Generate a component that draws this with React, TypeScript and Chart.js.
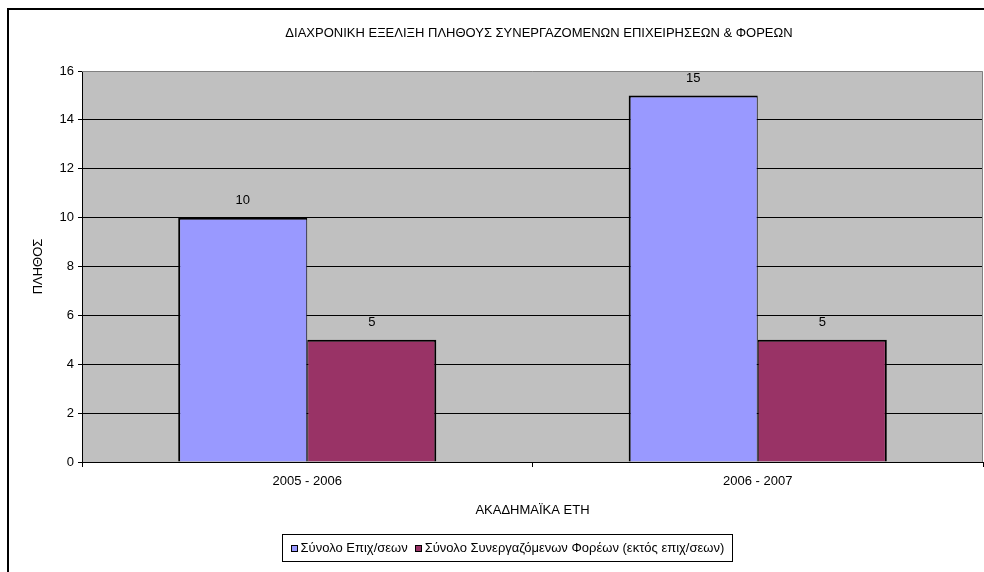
import React, { useEffect, useRef } from "react";
import { Chart, registerables } from "chart.js";

Chart.register(...registerables);

const chartTitle = "ΔΙΑΧΡΟΝΙΚΗ ΕΞΕΛΙΞΗ ΠΛΗΘΟΥΣ ΣΥΝΕΡΓΑΖΟΜΕΝΩΝ ΕΠΙΧΕΙΡΗΣΕΩΝ & ΦΟΡΕΩΝ";
const xAxisTitle = "ΑΚΑΔΗΜΑΪΚΑ ΕΤΗ";
const yAxisTitle = "ΠΛΗΘΟΣ";
const categories = ["2005 - 2006", "2006 - 2007"];
const seriesNames = ["Σύνολο Επιχ/σεων", "Σύνολο Συνεργαζόμενων Φορέων (εκτός επιχ/σεων)"];
const businesses = [10, 15];
const bodies = [5, 5];
const yMin = 0;
const yMax = 16;
const yStep = 2;

const COLORS = ["#9999FF", "#993366"];
const FONT = "'Liberation Sans', Arial, sans-serif";
const FS = 13;

const decorPlugin = {
  id: "decor",
  beforeDraw(chart: any) {
    const { ctx, chartArea } = chart;
    ctx.save();
    ctx.fillStyle = "#ffffff";
    ctx.fillRect(0, 0, chart.width, chart.height);
    ctx.strokeStyle = "#000000";
    ctx.lineWidth = 2;
    ctx.strokeRect(8, 9, 2000, 2000);
    ctx.fillStyle = "#C0C0C0";
    ctx.fillRect(chartArea.left, chartArea.top, chartArea.right - chartArea.left, chartArea.bottom - chartArea.top);
    ctx.restore();
  },
  afterDatasetsDraw(chart: any) {
    const { ctx } = chart;
    ctx.save();
    ctx.font = `${FS}px ${FONT}`;
    ctx.fillStyle = "#000000";
    ctx.textAlign = "center";
    ctx.textBaseline = "middle";
    chart.data.datasets.forEach((ds: any, di: number) => {
      const meta = chart.getDatasetMeta(di);
      meta.data.forEach((bar: any, i: number) => {
        ctx.fillText(String(ds.data[i]), bar.x, bar.y - 17);
      });
    });
    ctx.restore();
  },
  afterDraw(chart: any) {
    const { ctx, chartArea } = chart;
    ctx.save();
    ctx.strokeStyle = "#808080";
    ctx.lineWidth = 1;
    ctx.beginPath();
    ctx.moveTo(chartArea.left, chartArea.top + 0.5);
    ctx.lineTo(chartArea.right - 0.5, chartArea.top + 0.5);
    ctx.lineTo(chartArea.right - 0.5, chartArea.bottom);
    ctx.stroke();

    ctx.fillStyle = "#000000";
    ctx.font = `${FS}px ${FONT}`;
    ctx.textAlign = "center";
    ctx.textBaseline = "middle";
    ctx.fillText(chartTitle, 539, 33);
    ctx.fillText(xAxisTitle, (chartArea.left + chartArea.right) / 2, 510);
    ctx.save();
    ctx.translate(38, (chartArea.top + chartArea.bottom) / 2);
    ctx.rotate(-Math.PI / 2);
    ctx.fillText(yAxisTitle, 0, 0);
    ctx.restore();

    // legend
    const sq = 7;
    const padL = 8;
    const gap = 3;
    const itemGap = 7;
    const widths = seriesNames.map((n) => ctx.measureText(n).width);
    const total = Math.round(padL * 2 + widths.reduce((a, w) => a + sq + gap + w, 0) + itemGap * (seriesNames.length - 1));
    const cx = 507;
    const boxL = Math.round(cx - total / 2) + 0.5;
    const boxT = 534.5;
    const boxH = 27;
    ctx.fillStyle = "#ffffff";
    ctx.fillRect(boxL, boxT, total, boxH);
    ctx.strokeStyle = "#000000";
    ctx.lineWidth = 1;
    ctx.strokeRect(boxL, boxT, total, boxH);
    let x = boxL + padL;
    const cy = boxT + boxH / 2;
    ctx.textAlign = "left";
    seriesNames.forEach((n, i) => {
      const sx = Math.round(x);
      const sy = Math.round(cy - sq / 2);
      ctx.fillStyle = COLORS[i];
      ctx.fillRect(sx, sy, sq, sq);
      ctx.strokeStyle = "#000000";
      ctx.strokeRect(sx + 0.5, sy + 0.5, sq - 1, sq - 1);
      x += sq + gap;
      ctx.fillStyle = "#000000";
      ctx.fillText(n, x, cy + 0.5);
      x += widths[i] + itemGap;
    });
    ctx.restore();
  },
};

export default function App() {
  const ref = useRef<HTMLCanvasElement | null>(null);
  useEffect(() => {
    if (!ref.current) return;
    const chart = new Chart(ref.current, {
      type: "bar",
      data: {
        labels: categories,
        datasets: [
          {
            label: seriesNames[0],
            data: businesses,
            backgroundColor: COLORS[0],
            borderColor: "#000000",
            borderWidth: { top: 2, left: 2, right: 1, bottom: 0 },
            categoryPercentage: 0.573,
            barPercentage: 1,
          },
          {
            label: seriesNames[1],
            data: bodies,
            backgroundColor: COLORS[1],
            borderColor: "#000000",
            borderWidth: { top: 2, left: 1, right: 2, bottom: 0 },
            categoryPercentage: 0.573,
            barPercentage: 1,
          },
        ],
      },
      options: {
        responsive: false,
        animation: false,
        devicePixelRatio: 1,
        layout: { padding: { top: 71, right: 1, left: 0, bottom: 0 } },
        plugins: {
          legend: { display: false },
          title: { display: false },
          tooltip: { enabled: false },
        },
        scales: {
          x: {
            offset: true,
            grid: {
              display: true,
              drawOnChartArea: false,
              drawTicks: true,
              tickLength: 5,
              color: "#000000",
            },
            border: { display: true, color: "#000000", width: 1 },
            ticks: {
              color: "#000000",
              font: { family: FONT, size: FS },
              padding: 7,
              maxRotation: 0,
            },
            afterFit(scale: any) {
              scale.height = 110;
            },
          },
          y: {
            min: yMin,
            max: yMax,
            grid: {
              color: (c: any) => (c.tick && c.tick.value === yMax ? "rgba(0,0,0,0)" : "#000000"),
              tickColor: "#000000",
              tickLength: 4,
              lineWidth: 1,
            },
            border: { display: true, color: "#000000", width: 1 },
            ticks: {
              stepSize: yStep,
              color: "#000000",
              font: { family: FONT, size: FS },
              padding: 4,
            },
            afterFit(scale: any) {
              scale.width = 82;
            },
          },
        },
      },
      plugins: [decorPlugin],
    });
    return () => chart.destroy();
  }, []);
  return (
    <div style={{ position: "absolute", left: 0, top: 0, width: 984, height: 572 }}>
      <canvas ref={ref} width={984} height={572} style={{ width: 984, height: 572, display: "block" }} />
    </div>
  );
}
